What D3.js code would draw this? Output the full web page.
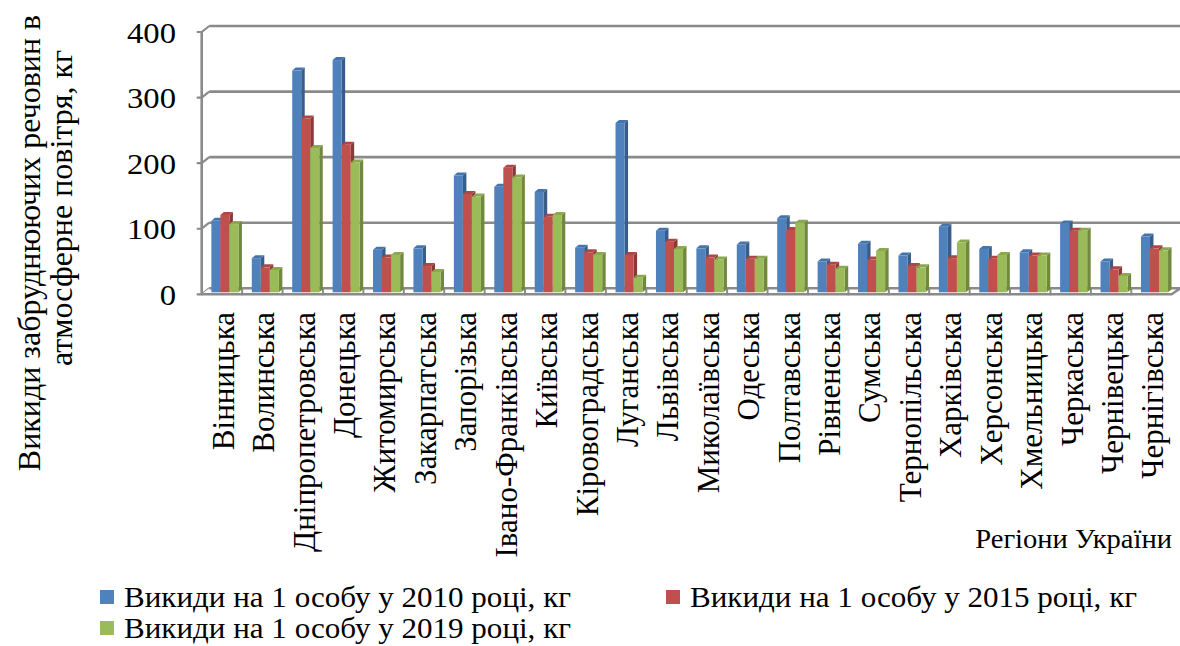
<!DOCTYPE html>
<html>
<head>
<meta charset="utf-8">
<script src="https://cdn.jsdelivr.net/npm/d3@7"></script>
<style>
  html, body { margin: 0; padding: 0; background: #fff; }
  svg { display: block; }
  text { font-family: "Liberation Serif", "DejaVu Serif Condensed", "DejaVu Serif", serif; fill: #000; }
</style>
</head>
<body>
<svg id="chart" width="1180" height="646"></svg>
<script>
// Regions of Ukraine
const regions = [
  "Вінницька", "Волинська", "Дніпропетровська", "Донецька", "Житомирська",
  "Закарпатська", "Запорізька", "Івано-Франківська", "Київська", "Кіровоградська",
  "Луганська", "Львівська", "Миколаївська", "Одеська", "Полтавська",
  "Рівненська", "Сумська", "Тернопільська", "Харківська", "Херсонська",
  "Хмельницька", "Черкаська", "Чернівецька", "Чернігівська"
];

// Emissions of pollutants per person, kg
const emissions2010 = [109, 52, 338, 354, 65, 67, 178, 161, 153, 68, 258, 94, 67, 73, 113, 47, 74, 56, 100, 66, 61, 105, 47, 85];
const emissions2015 = [118, 38, 265, 225, 53, 40, 150, 190, 115, 61, 57, 77, 53, 51, 95, 42, 50, 40, 52, 51, 56, 94, 35, 67];
const emissions2019 = [104, 34, 220, 198, 57, 31, 146, 175, 118, 57, 22, 66, 50, 51, 106, 36, 63, 38, 76, 57, 56, 94, 25, 64];

const seriesNames = [
  "Викиди на 1 особу у 2010 році, кг",
  "Викиди на 1 особу у 2015 році, кг",
  "Викиди на 1 особу у 2019 році, кг"
];
const yTicks = [0, 100, 200, 300, 400];

const colors = {
  front: ["#4F81BD", "#C0504D", "#9BBB59"],
  side:  ["#385D8A", "#8C3836", "#71893F"],
  top:   ["#4574AA", "#AD4744", "#8BA84F"]
};

const series = [emissions2010, emissions2015, emissions2019];

const svg = d3.select("#chart");

// horizontal stretch applied to upright text
const textStretch = 1.09;

// 3D frame geometry
const frontLeft = 201.7, frontRight = 1171.7;
const depthX = 7.5;
const frontY = d3.scaleLinear().domain([0, 400]).range([294.3, 32]);
const backY = d3.scaleLinear().domain([0, 400]).range([288.3, 26]);
const barY = d3.scaleLinear().domain([0, 400]).range([292.3, 29.9]);

const gridColor = "#8A8A8A";

// back wall gridlines
svg.append("g").selectAll("line").data(yTicks).join("line")
  .attr("x1", frontLeft + depthX).attr("x2", 1182)
  .attr("y1", d => backY(d)).attr("y2", d => backY(d))
  .attr("stroke", gridColor).attr("stroke-width", 2.6);

// left wall: front edge and diagonal tick connectors
svg.append("line")
  .attr("x1", frontLeft).attr("x2", frontLeft)
  .attr("y1", frontY(400)).attr("y2", frontY(0))
  .attr("stroke", gridColor).attr("stroke-width", 2.6);
svg.append("g").selectAll("path").data(yTicks).join("path")
  .attr("d", d => `M${frontLeft - 5},${frontY(d)} L${frontLeft},${frontY(d)} L${frontLeft + depthX},${backY(d)}`)
  .attr("fill", "none").attr("stroke", gridColor).attr("stroke-width", 2.2);

// floor
svg.append("path")
  .attr("d", `M${frontLeft},${frontY(0)} L${frontRight},${frontY(0)} L${frontRight + depthX + 1},${backY(0)} L${frontLeft + depthX},${backY(0)}`)
  .attr("fill", "#fff").attr("stroke", gridColor).attr("stroke-width", 2.4);

// category bands along the floor
const x = d3.scaleBand().domain(regions)
  .range([frontLeft + 3, frontRight + 3])
  .paddingInner(0.33).paddingOuter(0.165);
const xs = d3.scaleBand().domain([0, 1, 2]).range([0, x.bandwidth()]);

// floor ticks between categories
const step = (frontRight - frontLeft) / regions.length;
svg.append("g").selectAll("line").data(d3.range(1, regions.length)).join("line")
  .attr("x1", i => frontLeft + i * step).attr("x2", i => frontLeft + i * step)
  .attr("y1", frontY(0) + 1).attr("y2", backY(0) - 1)
  .attr("stroke", gridColor).attr("stroke-width", 2);

// bars: front face, side face and top face
const bd = 3.5, bh = 3;
const bars = [];
regions.forEach((r, i) => {
  series.forEach((s, k) => bars.push({ region: r, k, v: s[i] }));
});
const bg = svg.append("g");
bars.forEach(b => {
  const x0 = x(b.region) + xs(b.k);
  const w = xs.bandwidth();
  const yt = barY(b.v), yb = barY(0);
  const g = bg.append("g");
  g.append("path")
    .attr("d", `M${x0 + w},${yt} L${x0 + w + bd},${yt - bh} L${x0 + w + bd},${yb - bh} L${x0 + w},${yb} Z`)
    .attr("fill", colors.side[b.k]);
  g.append("path")
    .attr("d", `M${x0},${yt} L${x0 + bd},${yt - bh} L${x0 + w + bd},${yt - bh} L${x0 + w},${yt} Z`)
    .attr("fill", colors.top[b.k]);
  g.append("rect")
    .attr("x", x0).attr("y", yt).attr("width", w).attr("height", yb - yt)
    .attr("fill", colors.front[b.k]);
});

// y axis tick labels
svg.append("g").selectAll("text").data(yTicks).join("text")
  .attr("transform", d => `translate(176,${frontY(d)}) scale(${textStretch},1)`)
  .attr("dy", "0.35em").attr("text-anchor", "end")
  .style("font-size", "30px")
  .text(d => d);

// category labels, rotated
svg.append("g").selectAll("text").data(regions).join("text")
  .attr("transform", d => `translate(${x(d) + x.bandwidth() / 2 - 2},312) rotate(-90)`)
  .attr("dy", "0.35em").attr("text-anchor", "end")
  .style("font-size", "31px")
  .text(d => d);

// y axis title (two lines)
svg.append("text")
  .attr("transform", "translate(40,243) rotate(-90)")
  .attr("text-anchor", "middle")
  .style("font-size", "32px")
  .text("Викиди забруднюючих речовин в");
svg.append("text")
  .attr("transform", "translate(72,208) rotate(-90)")
  .attr("text-anchor", "middle")
  .style("font-size", "32px")
  .text("атмосферне повітря, кг");

// x axis title
svg.append("text")
  .attr("transform", "translate(1172,548) scale(1.02,1)")
  .attr("text-anchor", "end")
  .style("font-size", "28px")
  .text("Регіони України");

// legend
const legendPos = [[100, 597], [666, 597], [100, 628]];
const lg = svg.append("g").selectAll("g").data(seriesNames).join("g")
  .attr("transform", (d, i) => `translate(${legendPos[i][0]},${legendPos[i][1]})`);
lg.append("rect").attr("x", 0).attr("y", -7).attr("width", 14).attr("height", 14)
  .attr("fill", (d, i) => colors.front[i]);
lg.append("text")
  .attr("transform", `translate(24,0) scale(${textStretch},1)`)
  .attr("dy", "0.35em")
  .style("font-size", "28.5px")
  .text(d => d);
</script>
</body>
</html>
